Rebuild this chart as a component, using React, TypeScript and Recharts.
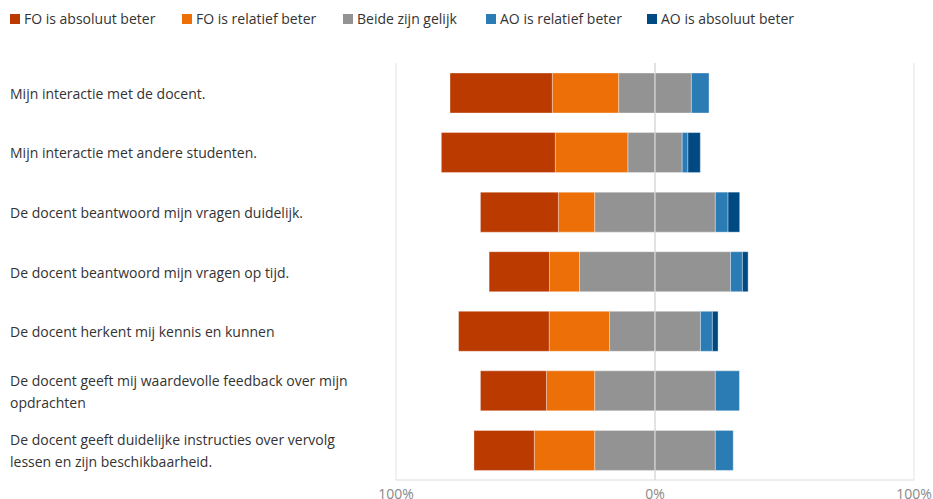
import React from 'react';
import { BarChart, Bar, XAxis, YAxis, CartesianGrid, ReferenceLine } from 'recharts';

const categories = [
  'Mijn interactie met de docent.',
  'Mijn interactie met andere studenten.',
  'De docent beantwoord mijn vragen duidelijk.',
  'De docent beantwoord mijn vragen op tijd.',
  'De docent herkent mij kennis en kunnen',
  'De docent geeft mij waardevolle feedback over mijn opdrachten',
  'De docent geeft duidelijke instructies over vervolg lessen en zijn beschikbaarheid.',
];
const foAbsoluut = [39.5, 44.0, 30.1, 23.3, 35.0, 25.5, 23.3];
const foRelatief = [25.6, 28.0, 14.0, 11.6, 23.3, 18.6, 23.3];
const beide = [28.1, 21.0, 46.6, 58.3, 35.1, 46.6, 46.6];
const aoRelatief = [6.8, 2.2, 4.9, 4.6, 4.6, 9.3, 6.9];
const aoAbsoluut = [0, 4.8, 4.5, 2.2, 2.2, 0, 0];
const xTicks = [-100, 0, 100];

const seriesNames = ['FO is absoluut beter', 'FO is relatief beter', 'Beide zijn gelijk', 'AO is relatief beter', 'AO is absoluut beter'];
const seriesColors = ['#BB3A00', '#EC7007', '#939393', '#2B7BB4', '#004A84'];

const data = categories.map((name, i) => ({
  name,
  foAbs: -foAbsoluut[i],
  foRel: -foRelatief[i],
  beideL: -beide[i] / 2,
  beideR: beide[i] / 2,
  aoRel: aoRelatief[i],
  aoAbs: aoAbsoluut[i],
}));

const FONT = '"Open Sans", sans-serif';

function wrap(text: string, maxChars: number): string[] {
  const words = text.split(' ');
  const lines: string[] = [];
  let cur = '';
  for (const w of words) {
    const next = cur ? cur + ' ' + w : w;
    if (next.length > maxChars && cur) {
      lines.push(cur);
      cur = w;
    } else {
      cur = next;
    }
  }
  if (cur) lines.push(cur);
  return lines;
}

const WrapTick = (props: any) => {
  const { y, payload } = props;
  const lines = wrap(String(payload.value), 51);
  const lh = 22;
  const start = y - ((lines.length - 1) * lh) / 2;
  return (
    <text x={10} y={start} fill="#333" fontSize={14} fontFamily={FONT} textAnchor="start" dominantBaseline="central">
      {lines.map((l, i) => (
        <tspan key={i} x={10} y={start + i * lh}>
          {l}
        </tspan>
      ))}
    </text>
  );
};

const stroke = 'rgba(255,255,255,0.35)';
const legendLeft = [10, 182, 343, 486, 647];

export default function App() {
  return (
    <div style={{ position: 'relative', width: 933, height: 499, fontFamily: FONT, overflow: 'hidden' }}>
      <style>{'html,body{margin:0;padding:0;overflow:hidden;}'}</style>
      {seriesNames.map((n, i) => (
        <div
          key={n}
          style={{
            position: 'absolute',
            left: legendLeft[i],
            top: 11,
            height: 16,
            display: 'flex',
            alignItems: 'center',
            fontSize: 14,
            color: '#333',
            whiteSpace: 'nowrap',
          }}
        >
          <div style={{ width: 10, height: 10, background: seriesColors[i], marginRight: 4 }} />
          <span style={{ lineHeight: '16px' }}>{n}</span>
        </div>
      ))}
      <BarChart
        width={933}
        height={499}
        data={data}
        layout="vertical"
        stackOffset="sign"
        margin={{ top: 63, right: 19, bottom: 0, left: 0 }}
        barSize={40}
      >
        <CartesianGrid horizontal={false} stroke="#e3e3e3" />
        <XAxis
          type="number"
          domain={[-100, 100]}
          ticks={xTicks}
          tickFormatter={(v: number) => `${Math.abs(v)}%`}
          axisLine={{ stroke: '#dcdcdc' }}
          tickLine={false}
          height={19}
          tick={{ fill: '#888', fontSize: 14, fontFamily: FONT }}
          tickMargin={3}
        />
        <YAxis type="category" dataKey="name" width={396} axisLine={false} tickLine={false} tick={<WrapTick />} interval={0} />
        <Bar dataKey="beideL" stackId="a" fill={seriesColors[2]} stroke={stroke} isAnimationActive={false} />
        <Bar dataKey="foRel" stackId="a" fill={seriesColors[1]} stroke={stroke} isAnimationActive={false} />
        <Bar dataKey="foAbs" stackId="a" fill={seriesColors[0]} stroke={stroke} isAnimationActive={false} />
        <Bar dataKey="beideR" stackId="a" fill={seriesColors[2]} stroke={stroke} isAnimationActive={false} />
        <Bar dataKey="aoRel" stackId="a" fill={seriesColors[3]} stroke={stroke} isAnimationActive={false} />
        <Bar dataKey="aoAbs" stackId="a" fill={seriesColors[4]} stroke={stroke} isAnimationActive={false} />
        <ReferenceLine x={0} stroke="#d4d4d4" strokeWidth={1} />
      </BarChart>
    </div>
  );
}
